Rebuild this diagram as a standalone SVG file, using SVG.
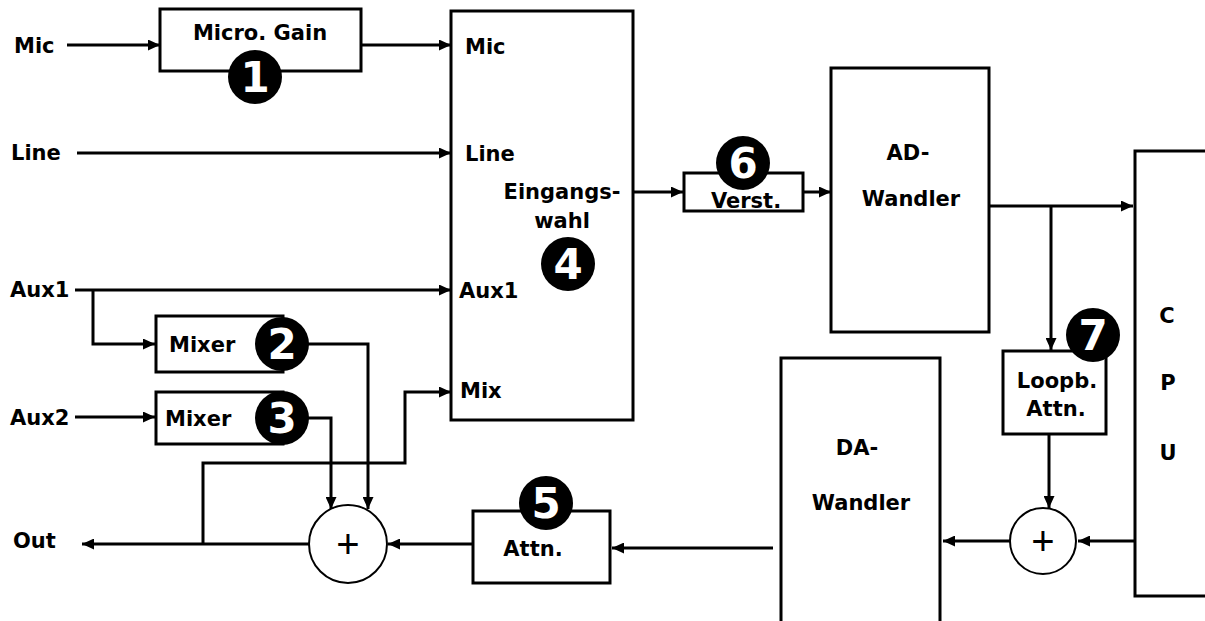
<svg xmlns="http://www.w3.org/2000/svg" width="1205" height="621" viewBox="0 0 1205 621">
<defs>
<marker id="ah" markerUnits="userSpaceOnUse" markerWidth="13" markerHeight="11" refX="12" refY="5.5" orient="auto">
<path d="M0,0 L12,5.5 L0,11 z" fill="#000"/>
</marker>
<style>
.box{fill:#fff;stroke:#000;stroke-width:3}
.t{font-family:"DejaVu Sans",sans-serif;font-weight:bold;font-size:21px;fill:#000}
.c{text-anchor:middle}
.num circle{fill:#000}
.num text{font-family:"DejaVu Sans",sans-serif;font-weight:bold;font-size:42px;fill:#fff;text-anchor:middle}
.sum circle{fill:#fff;stroke:#000;stroke-width:2}
.sum text{font-family:"Liberation Sans",sans-serif;font-size:40px;fill:#000;text-anchor:middle}
.wire{fill:none;stroke:#000;stroke-width:3}
.arr{marker-end:url(#ah)}
</style>
</defs>
<rect width="1205" height="621" fill="#fff"/>

<g id="labels">
<text class="t" x="14" y="53">Mic</text>
<text class="t" x="11" y="160">Line</text>
<text class="t" x="10" y="297">Aux1</text>
<text class="t" x="10" y="425">Aux2</text>
<text class="t" x="13" y="548">Out</text>
</g>

<g id="connectors">
<path class="wire arr" d="M67,45 H160"/>
<path class="wire arr" d="M361,45 H451"/>
<path class="wire arr" d="M77,153 H451"/>
<path class="wire arr" d="M75,290 H451"/>
<path class="wire arr" d="M93,290 V344 H155"/>
<path class="wire arr" d="M75,417 H155"/>
<path class="wire arr" d="M300,344 H368 V509"/>
<path class="wire arr" d="M300,418 H331 V509"/>
<path class="wire arr" d="M310,544 H82"/>
<path class="wire arr" d="M203,544 V463 H405 V392 H451"/>
<path class="wire arr" d="M633,192 H683"/>
<path class="wire arr" d="M803,192 H831"/>
<path class="wire arr" d="M989,206 H1133"/>
<path class="wire arr" d="M1051,206 V350"/>
<path class="wire arr" d="M1049,434 V508"/>
<path class="wire arr" d="M1135,541 H1078"/>
<path class="wire arr" d="M1010,541 H943"/>
<path class="wire arr" d="M773,548 H612"/>
<path class="wire arr" d="M473,544 H388"/>
</g>

<g id="micgain">
<rect class="box" x="160" y="9" width="201" height="62"/>
<text class="t c" x="260" y="40">Micro. Gain</text>
</g>
<g id="num1" class="num"><circle cx="255" cy="77" r="27"/><text x="255" y="92">1</text></g>

<g id="mixer2">
<rect class="box" x="156" y="316" width="127" height="56"/>
<text class="t" x="169" y="352">Mixer</text>
</g>
<g id="num2" class="num"><circle cx="282" cy="344" r="27"/><text x="282" y="359">2</text></g>

<g id="mixer3">
<rect class="box" x="156" y="392" width="127" height="52"/>
<text class="t" x="165" y="426">Mixer</text>
</g>
<g id="num3" class="num"><circle cx="282" cy="418" r="27"/><text x="282" y="433">3</text></g>

<g id="eingangswahl">
<rect class="box" x="451" y="11" width="182" height="409"/>
<text class="t" x="465" y="54">Mic</text>
<text class="t" x="465" y="161">Line</text>
<text class="t c" x="562" y="199">Eingangs-</text>
<text class="t c" x="562" y="228">wahl</text>
<text class="t" x="459" y="298">Aux1</text>
<text class="t" x="460" y="398">Mix</text>
</g>
<g id="num4" class="num"><circle cx="568" cy="264" r="27"/><text x="568" y="279">4</text></g>

<g id="verst">
<rect class="box" x="684" y="173" width="119" height="38"/>
<text class="t c" x="746" y="208">Verst.</text>
</g>
<g id="num6" class="num"><circle cx="743" cy="163" r="27"/><text x="743" y="178">6</text></g>

<g id="adwandler">
<rect class="box" x="831" y="68" width="158" height="264"/>
<text class="t c" x="908" y="160">AD-</text>
<text class="t c" x="911" y="206">Wandler</text>
</g>

<g id="cpu">
<path class="wire" d="M1210,151 H1135 V596 H1210"/>
<text class="t c" x="1167" y="323">C</text>
<text class="t c" x="1168" y="390">P</text>
<text class="t c" x="1168" y="460">U</text>
</g>

<g id="loopb">
<rect class="box" x="1003" y="351" width="103" height="83"/>
<text class="t c" x="1057" y="388">Loopb.</text>
<text class="t c" x="1056" y="416">Attn.</text>
</g>
<g id="num7" class="num"><circle cx="1093" cy="335" r="27"/><text x="1093" y="350">7</text></g>

<g id="sumright" class="sum"><circle cx="1043" cy="541" r="33"/><text x="1043" y="555">+</text></g>

<g id="dawandler">
<path class="box" d="M781,621 V358 H940 V621"/>
<text class="t c" x="857" y="455">DA-</text>
<text class="t c" x="861" y="510">Wandler</text>
</g>

<g id="attn">
<rect class="box" x="473" y="511" width="137" height="72"/>
<text class="t c" x="533" y="556">Attn.</text>
</g>
<g id="num5" class="num"><circle cx="546" cy="503" r="27"/><text x="546" y="518">5</text></g>

<g id="sumleft" class="sum"><circle cx="348" cy="544" r="39"/><text x="348" y="558">+</text></g>
</svg>
